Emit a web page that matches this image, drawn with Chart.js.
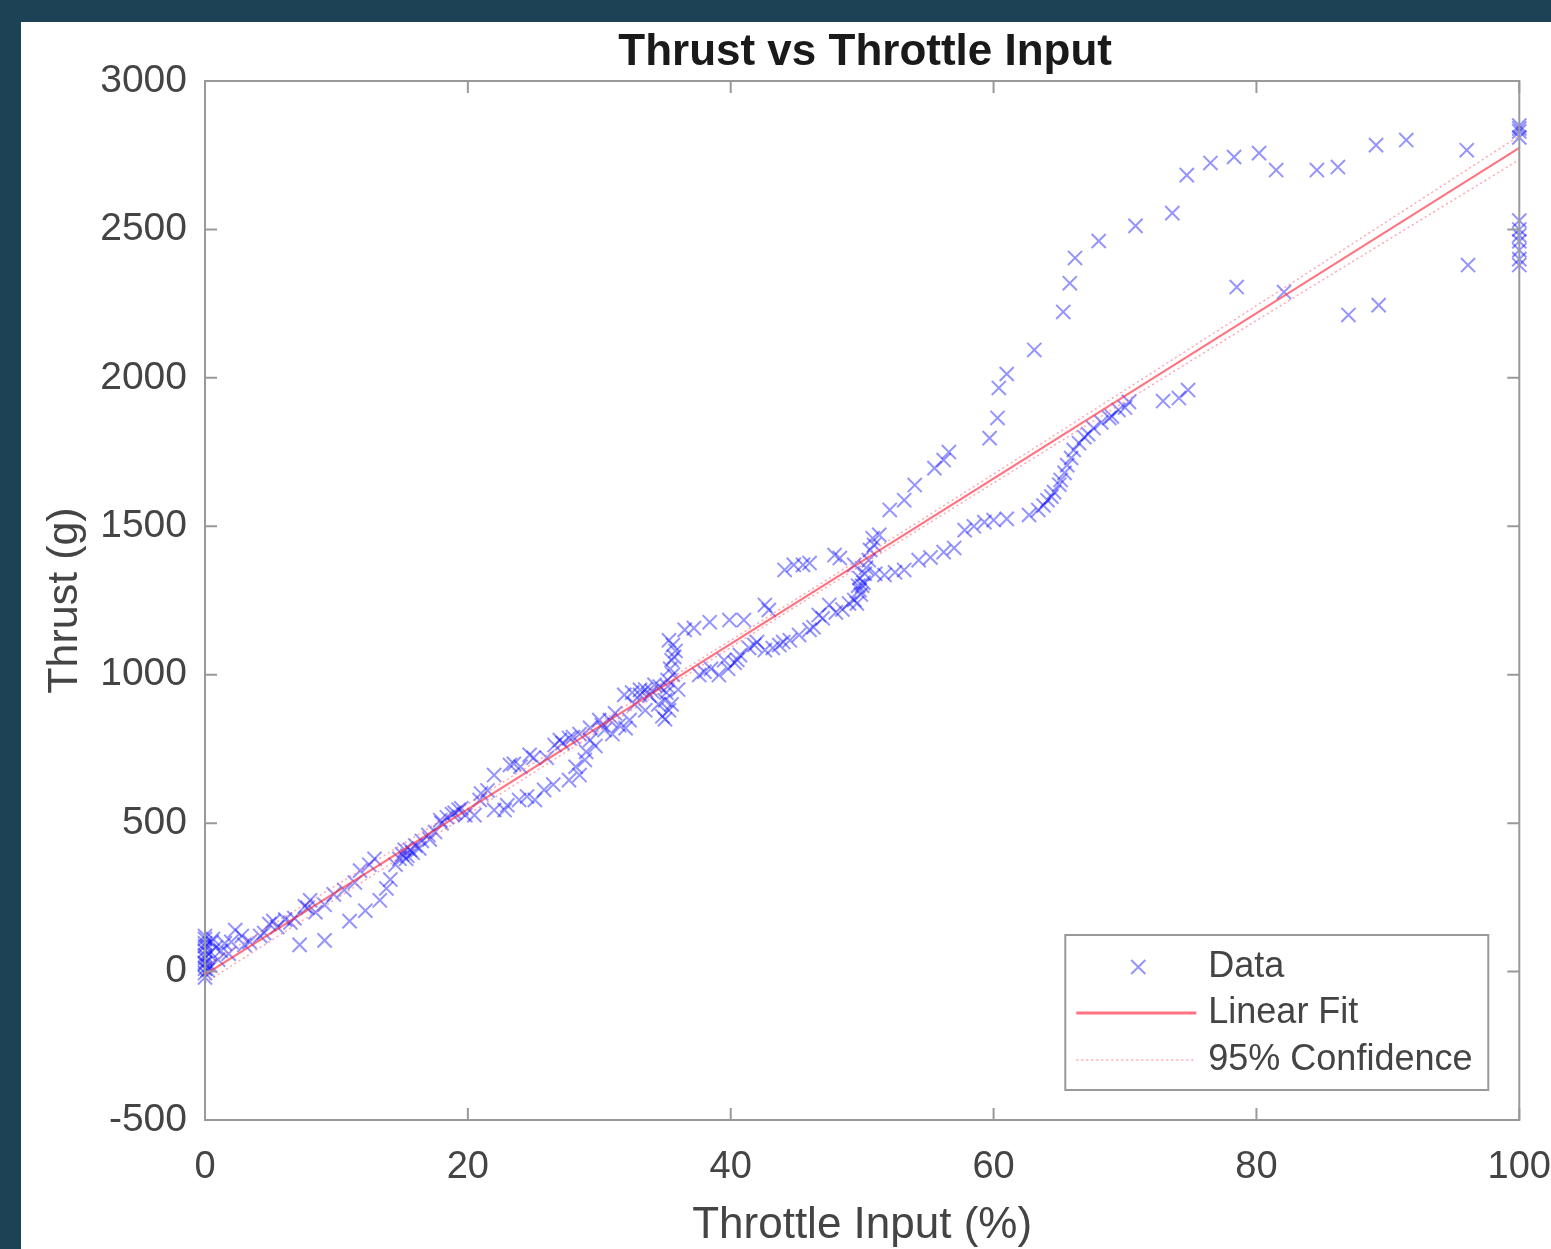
<!DOCTYPE html>
<html lang="en">
<head>
<meta charset="UTF-8">
<title>Thrust vs Throttle Input</title>
<script src="https://cdn.jsdelivr.net/npm/chart.js"></script>
<style>
    html, body {
        margin: 0;
        padding: 0;
    }
    body {
        background-color: #1d4255;
        width: 1551px;
        height: 1249px;
        overflow: hidden;
        position: relative;
    }
    #chart-container {
        position: absolute;
        left: 21px;
        top: 22px;
        width: 1530px;
        height: 1227px;
        background-color: #fff;
    }
    #thrust-chart {
        filter: blur(0.6px);
    }
</style>
</head>
<body>
<div id="chart-container">
    <canvas id="thrust-chart"></canvas>
</div>
<script>
const throttle = [
    0, 0, 0, 0, 0, 0, 0, 0, 0.3, 0.5, 0.8, 1.0,
    0, 0, 0, 0, 0.2, 0.4, 0.6, 1.2, 1.8,
    1.5, 2.3, 2.8, 3.4, 4.2, 4.9, 5.5, 6.1, 6.8, 7.2, 7.6, 8.0, 8.4, 9.1, 9.1, 9.8,
    2.0, 3.0, 4.5, 5.2, 6.5, 7.8,
    10.6, 11.0, 11.4, 11.8, 12.2, 12.5, 12.9, 13.3, 13.8, 14.1, 14.5, 14.8, 15.2, 15.4,
    15.6, 16.0, 16.5, 17.1, 17.5, 17.9, 18.4, 19.0, 19.5, 19.8,
    15.0, 15.3, 15.8, 16.3, 17.0, 18.0, 18.8, 19.3,
    20.5, 20.9, 21.5, 22.0, 22.0, 22.8, 23.2, 23.9, 24.0, 24.7, 25.1, 25.8, 26.0, 26.6,
    27.2, 27.7, 27.7, 28.5, 28.5, 28.9, 29.3, 29.3, 30.0, 30.4, 30.8, 31.5, 31.9, 32.3,
    32.7, 33.1, 33.1, 33.8, 34.2, 34.6,
    23.0, 24.5, 26.5, 28.2, 29.0, 29.7, 31.0, 32.0, 33.5, 34.5,
    21.0, 23.5, 25.0, 27.0, 28.0, 30.2, 31.2, 32.5, 33.5, 34.0,
    35.0, 35.0, 35.2, 35.3, 35.5, 35.3, 35.6, 35.8, 36.0,
    34.8, 35.1, 35.4, 35.6, 35.2, 35.7, 35.5,
    36.5, 37.2, 37.6, 38.4, 38.5, 39.1, 39.5, 39.9, 40.3, 40.7, 41.0, 41.4, 42.0, 42.6,
    42.6, 42.9, 43.7, 44.1, 44.5, 44.8, 45.2, 45.5, 46.0, 46.0, 46.7, 47.5, 47.9, 48.3,
    48.5, 49.0, 49.4, 49.4, 49.8, 49.8, 50.0,
    38.0, 39.8, 40.5, 41.8, 43.2, 44.0, 46.3, 47.0, 48.0,
    49.6, 49.9, 50.1, 50.2, 50.3, 50.6, 50.8, 49.7,
    50.5, 50.9, 51.3, 52.1, 53.2, 54.0, 55.5, 56.2, 56.6,
    51.0, 51.7, 52.5, 53.2, 54.3, 55.2, 56.2, 57.0, 57.8, 58.5, 59.3, 60.0, 61.0,
    62.7, 63.4, 64.1, 64.6, 65.1, 65.6, 66.1, 66.9, 67.6, 68.8, 69.5, 70.3, 72.9, 74.1, 74.8,
    63.8, 64.4, 65.0, 65.4, 65.9, 66.5, 67.2, 68.2, 69.0, 70.0,
    59.7, 60.3, 60.4, 61.0, 63.1, 65.3, 65.8, 66.2, 68.0, 70.8, 73.6, 74.7, 76.5, 78.3,
    80.2, 81.5, 84.6, 86.2, 89.1, 91.4, 96.0, 100, 100, 100, 100,
    78.5, 82.1, 87.0, 89.3, 96.1, 100, 100, 100, 100, 100, 100, 100
];
const thrust = [
    120, 95, 70, 45, 25, 10, -5, -20, 60, 100, 80, 40,
    110, 85, 55, 30, 5, 20, 110, 70, 60,
    95, 140, 120, 100, 120, 160, 150, 175, 180, 90, 220, 240, 200, 105, 225, 260,
    100, 90, 130, 170, 165, 215,
    275, 170, 300, 340, 205, 360, 380, 240, 280, 310, 360, 380, 410, 390,
    410, 425, 440, 445, 470, 510, 520, 535, 550, 527,
    395, 380, 400, 415, 460, 500, 530, 545,
    527, 578, 610, 544, 662, 544, 696, 578, 690, 730, 578, 612, 720, 763,
    770, 645, 787, 662, 800, 713, 780, 821, 847, 814, 847, 830, 932, 847,
    900, 932, 949, 930, 966, 960,
    560, 590, 630, 690, 740, 760, 800, 820, 880, 900,
    600, 700, 720, 780, 790, 830, 870, 940, 950, 945,
    850, 914, 982, 1116, 1049, 880, 1000, 1080, 950,
    860, 940, 1020, 1100, 960, 1060, 900,
    1151, 1157, 999, 1177, 1020, 999, 1049, 1184, 1040, 1066, 1184, 1090, 1110, 1083,
    1235, 1218, 1100, 1353, 1116, 1370, 1134, 1370, 1151, 1376, 1201, 1235, 1403, 1393,
    1220, 1240, 1252, 1370, 1285, 1326, 1300,
    1010, 1020, 1050, 1100, 1090, 1110, 1160, 1190, 1210,
    1240, 1270, 1310, 1340, 1360, 1420, 1460, 1300,
    1386, 1437, 1471, 1555, 1588, 1639, 1696, 1723, 1750,
    1340, 1336, 1345, 1353, 1386, 1395, 1413, 1427, 1487, 1500, 1514, 1521, 1525,
    1538, 1555, 1588, 1615, 1656, 1706, 1757, 1800, 1831, 1865, 1892, 1919, 1922, 1932, 1959,
    1570, 1600, 1640, 1680, 1730, 1780, 1810, 1850, 1870, 1900,
    1797, 1865, 1966, 2013, 2094, 2222, 2319, 2404, 2461, 2512, 2555, 2683, 2724, 2744,
    2757, 2700, 2700, 2710, 2784, 2801, 2767, 2850, 2840, 2830, 2810,
    2306, 2289, 2212, 2245, 2380, 2530, 2500, 2480, 2460, 2430, 2400, 2380
];

// linear fit and its 95% confidence bounds
const fitThrottle = [0, 100];
const fitThrust = [-10, 2775];
const confThrottle = [0, 20, 40, 60, 80, 100];
const confUpper = [18, 565, 1116, 1676, 2243, 2815];
const confLower = [-38, 529, 1092, 1646, 2193, 2735];

const xTicks = [0, 20, 40, 60, 80, 100];
const yTicks = [-500, 0, 500, 1000, 1500, 2000, 2500, 3000];

const FONT = '"Liberation Sans", Arial, Helvetica, sans-serif';
const TEXT = '#444';

function toPoints(xs, ys) {
    return xs.map((v, i) => ({ x: v, y: ys[i] }));
}

// MATLAB style box: frame, inward ticks, title and legend
const matlabBox = {
    id: 'matlabBox',
    afterDatasetsDraw(chart) {
        const { ctx, chartArea: a, scales: { x, y } } = chart;
        ctx.save();
        ctx.strokeStyle = '#999';
        ctx.lineWidth = 2;
        ctx.strokeRect(a.left, a.top, a.width, a.height);
        ctx.beginPath();
        xTicks.forEach(v => {
            const px = x.getPixelForValue(v);
            ctx.moveTo(px, a.bottom); ctx.lineTo(px, a.bottom - 12);
            ctx.moveTo(px, a.top); ctx.lineTo(px, a.top + 12);
        });
        yTicks.forEach(v => {
            const py = y.getPixelForValue(v);
            ctx.moveTo(a.left, py); ctx.lineTo(a.left + 12, py);
            ctx.moveTo(a.right, py); ctx.lineTo(a.right - 12, py);
        });
        ctx.stroke();
        ctx.restore();
    },
    afterDraw(chart) {
        const { ctx, chartArea: a } = chart;
        const ds = chart.data.datasets;
        ctx.save();

        // title
        ctx.fillStyle = '#1a1a1a';
        ctx.font = 'bold 44px ' + FONT;
        ctx.textAlign = 'center';
        ctx.textBaseline = 'middle';
        ctx.fillText('Thrust vs Throttle Input', (a.left + a.right) / 2 + 3, 31);

        // legend box
        const w = 423, h = 155;
        const bx = a.right - 31 - w, by = a.bottom - 30 - h;
        ctx.fillStyle = '#fff';
        ctx.fillRect(bx, by, w, h);
        ctx.strokeStyle = '#999';
        ctx.lineWidth = 2;
        ctx.strokeRect(bx, by, w, h);

        const rows = [by + 32, by + 78, by + 125];

        // data marker
        ctx.strokeStyle = ds[0].borderColor;
        ctx.lineWidth = ds[0].borderWidth;
        const mx = bx + 73, r = ds[0].pointRadius * Math.SQRT1_2;
        ctx.beginPath();
        ctx.moveTo(mx - r, rows[0] - r); ctx.lineTo(mx + r, rows[0] + r);
        ctx.moveTo(mx - r, rows[0] + r); ctx.lineTo(mx + r, rows[0] - r);
        ctx.stroke();

        // fit line
        ctx.strokeStyle = ds[1].borderColor;
        ctx.lineWidth = 3;
        ctx.beginPath();
        ctx.moveTo(bx + 11, rows[1]); ctx.lineTo(bx + 131, rows[1]);
        ctx.stroke();

        // confidence line
        ctx.strokeStyle = ds[2].borderColor;
        ctx.lineWidth = ds[2].borderWidth;
        ctx.setLineDash(ds[2].borderDash);
        ctx.beginPath();
        ctx.moveTo(bx + 11, rows[2]); ctx.lineTo(bx + 131, rows[2]);
        ctx.stroke();
        ctx.setLineDash([]);

        ctx.fillStyle = TEXT;
        ctx.font = '36px ' + FONT;
        ctx.textAlign = 'left';
        ds.slice(0, 3).forEach((d, i) => ctx.fillText(d.label, bx + 143, rows[i]));
        ctx.restore();
    }
};

new Chart(document.getElementById('thrust-chart'), {
    type: 'scatter',
    data: {
        datasets: [
            {
                label: 'Data',
                data: toPoints(throttle, thrust),
                pointStyle: 'crossRot',
                pointRadius: 10,
                borderWidth: 2,
                borderColor: 'rgba(0, 0, 255, 0.42)',
                backgroundColor: 'rgba(0, 0, 255, 0.42)',
                clip: false,
                order: 3
            },
            {
                label: 'Linear Fit',
                data: toPoints(fitThrottle, fitThrust),
                showLine: true,
                pointRadius: 0,
                borderWidth: 2,
                borderColor: 'rgba(255, 40, 60, 0.65)',
                order: 1
            },
            {
                label: '95% Confidence',
                data: toPoints(confThrottle, confUpper),
                showLine: true,
                pointRadius: 0,
                borderWidth: 1.5,
                borderDash: [2, 3],
                borderColor: 'rgba(255, 60, 80, 0.45)',
                cubicInterpolationMode: 'monotone',
                order: 2
            },
            {
                label: '95% Confidence (lower)',
                data: toPoints(confThrottle, confLower),
                showLine: true,
                pointRadius: 0,
                borderWidth: 1.5,
                borderDash: [2, 3],
                borderColor: 'rgba(255, 60, 80, 0.45)',
                cubicInterpolationMode: 'monotone',
                order: 2
            }
        ]
    },
    options: {
        responsive: true,
        maintainAspectRatio: false,
        animation: false,
        layout: {
            padding: { top: 59, right: 3, left: 0, bottom: 0 }
        },
        plugins: {
            legend: { display: false },
            title: { display: false },
            tooltip: { enabled: false }
        },
        scales: {
            x: {
                type: 'linear',
                min: 0,
                max: 100,
                // tick marks are hidden but their length pushes the labels down
                grid: { display: false, drawTicks: true, tickLength: 25 },
                border: { display: false },
                afterFit: scale => { scale.height = 129; },
                afterBuildTicks: scale => { scale.ticks = xTicks.map(v => ({ value: v })); },
                ticks: {
                    padding: 0,
                    color: TEXT,
                    font: { family: FONT, size: 38 },
                    callback: v => String(v)
                },
                title: {
                    display: true,
                    text: 'Throttle Input (%)',
                    color: TEXT,
                    padding: { top: 0, bottom: -3 },
                    font: { family: FONT, size: 44 }
                }
            },
            y: {
                type: 'linear',
                min: -500,
                max: 3000,
                grid: { display: false, drawTicks: false },
                border: { display: false },
                afterFit: scale => { scale.width = 184; },
                afterBuildTicks: scale => { scale.ticks = yTicks.map(v => ({ value: v })); },
                ticks: {
                    padding: 18,
                    color: TEXT,
                    font: { family: FONT, size: 39 },
                    callback: v => String(v)
                },
                title: {
                    display: true,
                    text: 'Thrust (g)',
                    color: TEXT,
                    padding: { top: 18, bottom: 0 },
                    font: { family: FONT, size: 43 }
                }
            }
        }
    },
    plugins: [matlabBox]
});
</script>
</body>
</html>
